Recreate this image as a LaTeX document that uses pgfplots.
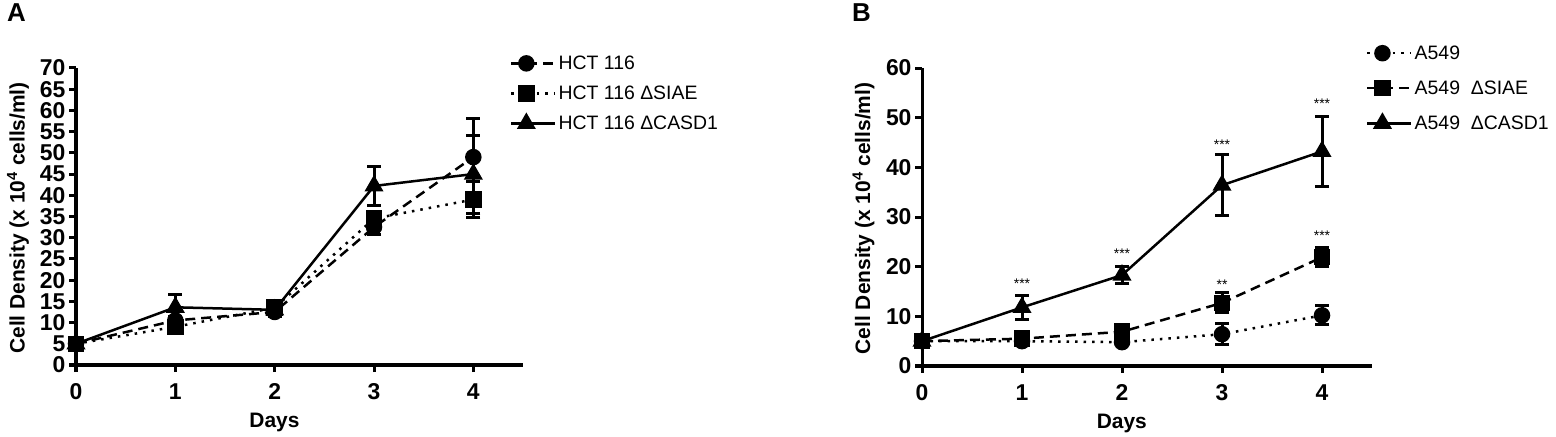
\documentclass[border=0pt]{standalone}
\usepackage{pgfplots}
\pgfplotsset{compat=1.18}
\usepackage{fontspec}
\setmainfont{Liberation Sans}
\begin{document}
\begin{tikzpicture}[x=1bp,y=1bp]
\useasboundingbox (0bp,0bp) rectangle (1556bp,437bp);
\pgfplotsset{
  mystyle/.style={
    scale only axis, clip=false,
    axis x line*=bottom, axis y line*=left,
    axis line style={line width=3bp},
    xmin=0, xmax=4.5,
    xtick={0,1,2,3,4},
    major tick length=7bp,
    tick align=outside,
    tick style={line width=3bp, black},
    tick label style={font=\bfseries\fontsize{23}{23}\selectfont},
    xticklabel style={yshift=-8bp},
    /pgf/number format/assume math mode=true,
    label style={font=\bfseries\fontsize{21}{21}\selectfont},
    xlabel={Days},
    ylabel={Cell Density (x 10\textsuperscript{4} cells/ml)},
    xlabel style={at={(axis description cs:0.444,-0.193)}, anchor=center},
    ylabel style={at={(axis description cs:-0.13,0.495)}, anchor=center},
    legend style={draw=none, fill=none, font=\fontsize{19.5}{19.5}\selectfont, anchor=north west, legend cell align=left},
    legend image code/.code={\path (0bp,0bp) -- (44bp,0bp); \draw[mark repeat=2,mark phase=2,##1] plot coordinates {(0bp,0bp) (15bp,0bp) (30bp,0bp)};},
    error bars/y dir=both, error bars/y explicit,
    error bars/error bar style={line width=3bp, solid},
    error bars/error mark options={rotate=90, mark size=7bp, line width=3bp, solid},
  },
  dashedS/.style={black, line width=2.5bp, dash pattern=on 10bp off 6bp},
  dottedS/.style={black, line width=2.5bp, dash pattern=on 2.5bp off 6bp},
  solidS/.style={black, line width=2.5bp, solid},
  circ/.style={mark=*, mark size=7bp, mark options={solid, fill=black}},
  sq/.style={mark=square*, mark size=7bp, mark options={solid, fill=black}},
  tri/.style={mark=triangle*, mark size=8.5bp, mark options={solid, fill=black}},
}
% Panel A
\begin{axis}[mystyle, at={(76bp,72bp)}, anchor=origin, width=447bp, height=297bp,
  ymin=0, ymax=70, ytick={0,5,...,70},
  legend style={at={(axis description cs:0.964,1.055)}, row sep=11bp}]
\addplot[dashedS, circ] table[y error=e] {
x y e
0 5 0.5
1 10.5 1
2 12.5 1
3 32.5 1.8
4 49 9
};
\addlegendentry{HCT 116}
\addplot[dottedS, sq] table[y error=e] {
x y e
0 5 0.5
1 9 1
2 13.5 1
3 34.5 1.5
4 39 4.3
};
\addlegendentry{HCT 116 ΔSIAE}
\addplot[solidS, tri] table[y error=e] {
x y e
0 5 0.5
1 13.6 3
2 13 1
3 42.2 4.5
4 45 9.2
};
\addlegendentry{HCT 116 ΔCASD1}
\end{axis}
% Panel B
\begin{axis}[mystyle, at={(922bp,71bp)}, anchor=origin, width=450bp, height=298bp,
  ymin=0, ymax=60, ytick={0,10,...,60},
  legend style={at={(axis description cs:0.98,1.089)}, row sep=16bp}]
\addplot[dottedS, circ] table[y error=e] {
x y e
0 5 0.3
1 5 0.3
2 4.8 0.5
3 6.4 2.1
4 10.2 1.9
};
\addlegendentry{A549}
\addplot[dashedS, sq] table[y error=e] {
x y e
0 5 0.3
1 5.5 0.5
2 6.9 0.8
3 12.7 2
4 21.9 1.9
};
\addlegendentry{A549\ \ ΔSIAE}
\addplot[solidS, tri] table[y error=e] {
x y e
0 5 0.3
1 11.8 2.4
2 18.3 1.7
3 36.4 6.1
4 43.2 7.1
};
\addlegendentry{A549\ \ ΔCASD1}
\begin{scope}[every node/.style={font=\fontsize{14}{14}\selectfont, inner sep=0pt}]
\node at (axis cs:1,16.6) {***};
\node at (axis cs:2,22.6) {***};
\node at (axis cs:3,44.5) {***};
\node at (axis cs:4,52.9) {***};
\node at (axis cs:3,16.3) {**};
\node at (axis cs:4,26.2) {***};
\end{scope}
\end{axis}
\node[anchor=north west, font=\bfseries\fontsize{26}{26}\selectfont, inner sep=0pt] at (7bp,434bp) {A};
\node[anchor=north west, font=\bfseries\fontsize{26}{26}\selectfont, inner sep=0pt] at (852bp,434bp) {B};
\end{tikzpicture}
\end{document}
